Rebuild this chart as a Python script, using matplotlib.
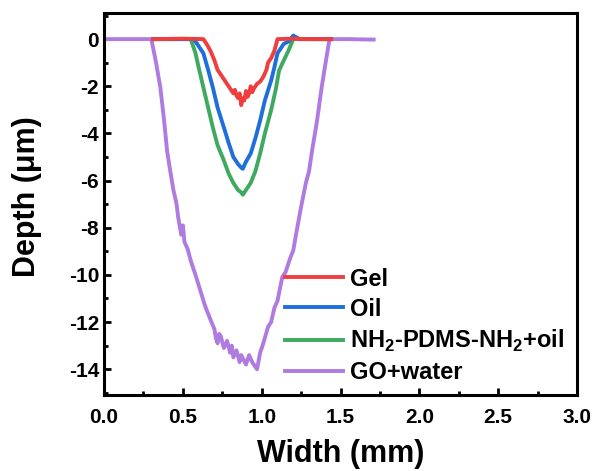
import matplotlib.pyplot as plt
from matplotlib.ticker import MultipleLocator

plt.rcParams['font.family'] = ['Liberation Sans', 'DejaVu Sans']
plt.rcParams['font.weight'] = 'bold'
plt.rcParams['axes.unicode_minus'] = False
plt.rcParams['mathtext.fontset'] = 'custom'
plt.rcParams['mathtext.rm'] = 'Liberation Sans:bold'
plt.rcParams['mathtext.bf'] = 'Liberation Sans:bold'

# profiles (width in mm, depth in um)
gel_x = [0.31, 0.50, 0.63, 0.65, 0.675, 0.70, 0.72, 0.75, 0.78, 0.80, 0.82, 0.83, 0.84, 0.85,
         0.86, 0.87, 0.88, 0.89, 0.90, 0.91, 0.92, 0.93, 0.94, 0.95, 0.97, 0.99, 1.01, 1.03,
         1.04, 1.06, 1.08, 1.10, 1.20, 1.30, 1.44]
gel_y = [0.0, 0.02, 0.0, -0.2, -0.5, -0.9, -1.3, -1.6, -1.9, -2.1, -2.3, -2.15, -2.4, -2.5,
         -2.3, -2.8, -2.5, -2.6, -2.2, -2.45, -2.3, -2.0, -2.25, -2.1, -1.9, -1.8, -1.6, -1.3,
         -1.0, -0.8, -0.5, 0.0, 0.02, 0.0, 0.0]

oil_x = [0.31, 0.50, 0.57, 0.60, 0.63, 0.66, 0.69, 0.72, 0.76, 0.79, 0.82, 0.85, 0.87, 0.88,
         0.90, 0.93, 0.96, 0.99, 1.02, 1.06, 1.08, 1.10, 1.14, 1.17, 1.20, 1.24, 1.35, 1.44]
oil_y = [0.0, 0.0, 0.0, -0.3, -0.6, -1.3, -2.05, -2.9, -3.75, -4.4, -5.0, -5.3, -5.45, -5.5,
         -5.2, -4.85, -4.2, -3.45, -2.6, -1.75, -1.2, -0.6, -0.2, -0.1, 0.15, 0.0, 0.0, 0.0]

nh2_x = [0.31, 0.45, 0.55, 0.58, 0.60, 0.63, 0.66, 0.69, 0.72, 0.76, 0.79, 0.82, 0.85, 0.87,
         0.88, 0.90, 0.93, 0.96, 0.99, 1.02, 1.06, 1.09, 1.11, 1.14, 1.17, 1.20, 1.30, 1.44]
nh2_y = [0.0, 0.0, 0.0, -0.6, -1.2, -2.05, -2.9, -3.75, -4.5, -5.15, -5.7, -6.1, -6.4, -6.5,
         -6.6, -6.4, -6.1, -5.6, -4.85, -4.0, -3.0, -2.1, -1.33, -0.9, -0.48, 0.0, 0.0, 0.0]

go_x = [0.0, 0.15, 0.30, 0.33, 0.357, 0.38, 0.40, 0.42, 0.44, 0.46, 0.47, 0.49, 0.50, 0.51,
        0.53, 0.55, 0.58, 0.61, 0.64, 0.675, 0.70, 0.71, 0.72, 0.73, 0.74, 0.76, 0.78, 0.80,
        0.81, 0.82, 0.84, 0.86, 0.87, 0.885, 0.90, 0.92, 0.94, 0.96, 0.97, 0.99, 1.01, 1.04,
        1.06, 1.08, 1.10, 1.13, 1.15, 1.18, 1.20, 1.22, 1.25, 1.28, 1.30, 1.32, 1.35, 1.38,
        1.41, 1.43, 1.55, 1.71]
go_y = [0.0, 0.0, 0.0, -1.0, -2.05, -3.4, -4.75, -5.6, -6.4, -7.0, -7.55, -8.3, -7.9, -8.6,
        -8.9, -9.4, -10.0, -10.65, -11.3, -11.9, -12.3, -12.7, -12.9, -12.5, -12.6, -13.1, -12.8, -13.3,
        -13.0, -13.5, -13.2, -13.7, -13.4, -13.6, -13.8, -13.4, -13.7, -13.9, -14.0, -13.3, -12.9, -12.2,
        -12.0, -11.4, -11.1, -10.1, -9.9, -9.3, -8.96, -8.2, -7.1, -6.1, -5.6, -4.7, -3.5, -2.05,
        -0.8, 0.0, 0.0, -0.02]

labels = ['Gel', 'Oil', r'NH$_2$-PDMS-NH$_2$+oil', 'GO+water']
colors = ['#EF3E3E', '#1E6FDB', '#3FAA5F', '#AF7BE0']

fig = plt.figure(figsize=(5.98, 4.71), dpi=100)
ax = fig.add_axes([0.174, 0.161, 0.791, 0.811])

lg, = ax.plot(go_x, go_y, color=colors[3], lw=2.8, zorder=2)
ln, = ax.plot(nh2_x, nh2_y, color=colors[2], lw=2.8, zorder=3)
lo, = ax.plot(oil_x, oil_y, color=colors[1], lw=2.8, zorder=4)
lr, = ax.plot(gel_x, gel_y, color=colors[0], lw=2.8, zorder=5)

ax.set_xlim(0, 3.0)
ax.set_ylim(-15.1, 1.1)
ax.xaxis.set_major_locator(MultipleLocator(0.5))
ax.xaxis.set_minor_locator(MultipleLocator(0.25))
ax.yaxis.set_major_locator(MultipleLocator(2))
ax.yaxis.set_minor_locator(MultipleLocator(1))
ax.tick_params(which='both', direction='in', width=2, labelsize=15)
ax.tick_params(which='major', length=5)
ax.tick_params(which='minor', length=3)
ax.tick_params(axis='x', which='major', pad=9)
for s in ax.spines.values():
    s.set_linewidth(2.2)

ax.set_xlabel('Width (mm)', fontsize=22, fontweight='bold')
ax.xaxis.set_label_coords(0.5, -0.115)
ax.set_ylabel('Depth (\u03bcm)', fontsize=22, fontweight='bold')
ax.yaxis.set_label_coords(-0.131, 0.52)

ax.legend([lr, lo, ln, lg], labels, loc='lower left', bbox_to_anchor=(0.383, 0.029),
          borderaxespad=0, borderpad=0, frameon=False, fontsize=17, handlelength=2.45,
          labelspacing=0.3, handletextpad=0.3)

fig.savefig('out.png', dpi=100)
